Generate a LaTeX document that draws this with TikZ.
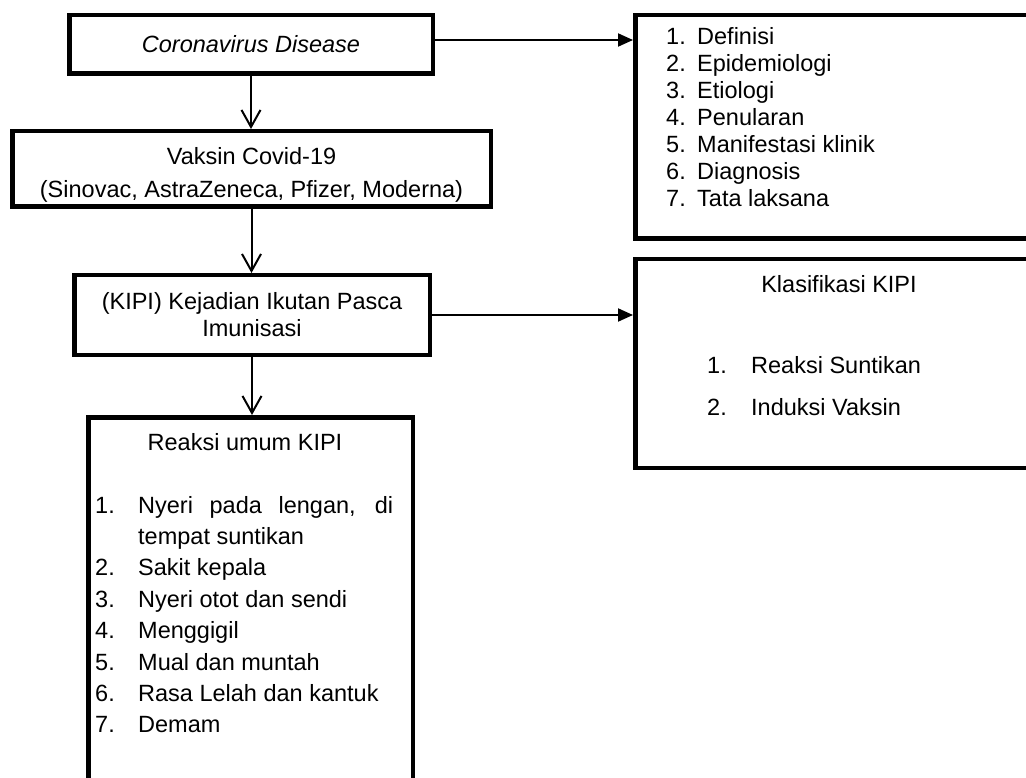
\documentclass[tikz,border=0pt]{standalone}
\usepackage{fontspec}
\setmainfont{Liberation Sans}
\usetikzlibrary{arrows.meta}
\begin{document}
\begin{tikzpicture}[x=1pt,y=-1pt,
  frame/.style={draw=black, line width=4.5pt, inner sep=0pt},
  txt/.style={inner sep=0pt, font=\fontsize{23.5}{27}\selectfont},
  conn/.style={line width=2pt},
  openarr/.style={conn, -{Straight Barb[length=17pt,width=19pt]}},
  solidarr/.style={conn, -{Triangle[length=15pt,width=13pt]}}]
\useasboundingbox (0,0) rectangle (1026,778);
\fill[white] (0,0) rectangle (1026,778);
\clip (0,0) rectangle (1026,778);

% boxes
\node[frame, minimum width=363.5pt, minimum height=58.5pt,
      font=\fontsize{23.5}{27}\selectfont\itshape] (corona) at (251,44.5) {Coronavirus Disease};
\node[frame, minimum width=478.5pt, minimum height=75.5pt, align=center,
      font=\fontsize{23.5}{33}\selectfont] (vaksin) at (251.5,169)
      {\rule{0pt}{29pt}Vaksin Covid-19\\(Sinovac, AstraZeneca, Pfizer, Moderna)};
\node[frame, minimum width=355.5pt, minimum height=79.5pt, align=center,
      font=\fontsize{23.5}{27}\selectfont] (kipi) at (252,315)
      {(KIPI) Kejadian Ikutan Pasca\\Imunisasi};
\node[frame, minimum width=324.5pt, minimum height=400pt] (reaksi) at (250.5,617.25) {};
\node[frame, minimum width=402.5pt, minimum height=223.5pt] (list) at (836.5,127) {};
\node[frame, minimum width=402.5pt, minimum height=208.5pt] (klasif) at (836.5,363.5) {};

% texts
\node[txt, anchor=base west] (listtext) at (666,45) {%
  \begin{tabular}[t]{@{}l@{}}
  \makebox[31pt][l]{1.}Definisi\\
  \makebox[31pt][l]{2.}Epidemiologi\\
  \makebox[31pt][l]{3.}Etiologi\\
  \makebox[31pt][l]{4.}Penularan\\
  \makebox[31pt][l]{5.}Manifestasi klinik\\
  \makebox[31pt][l]{6.}Diagnosis\\
  \makebox[31pt][l]{7.}Tata laksana
  \end{tabular}};
\node[txt, anchor=base] (klastitle) at (839,292) {Klasifikasi KIPI};
\node[txt, anchor=base west, font=\fontsize{23.5}{42}\selectfont] (klastext) at (707,373) {%
  \begin{tabular}[t]{@{}l@{}}
  \makebox[44pt][l]{1.}Reaksi Suntikan\\
  \makebox[44pt][l]{2.}Induksi Vaksin
  \end{tabular}};
\node[txt, anchor=base] (reaksititle) at (245,450) {Reaksi umum KIPI};
\node[txt, anchor=base west, font=\fontsize{23.5}{31.4}\selectfont] (reaksitext) at (95,513) {%
  \begin{tabular}[t]{@{}l@{}}
  \makebox[43pt][l]{1.}\makebox[255pt][s]{Nyeri pada lengan, di}\\
  \makebox[43pt][l]{}tempat suntikan\\
  \makebox[43pt][l]{2.}Sakit kepala\\
  \makebox[43pt][l]{3.}Nyeri otot dan sendi\\
  \makebox[43pt][l]{4.}Menggigil\\
  \makebox[43pt][l]{5.}Mual dan muntah\\
  \makebox[43pt][l]{6.}Rasa Lelah dan kantuk\\
  \makebox[43pt][l]{7.}Demam
  \end{tabular}};

% connectors
\draw[openarr] (corona.south) -- (corona.south |- vaksin.north);
\draw[openarr] (vaksin.south) -- (vaksin.south |- kipi.north);
\draw[openarr] (kipi.south) -- (kipi.south |- reaksi.north);
\draw[solidarr] ([yshift=4.5pt]corona.east) -- ([yshift=4.5pt]corona.east -| list.west);
\draw[solidarr] (kipi.east) -- (kipi.east -| klasif.west);
\end{tikzpicture}
\end{document}
